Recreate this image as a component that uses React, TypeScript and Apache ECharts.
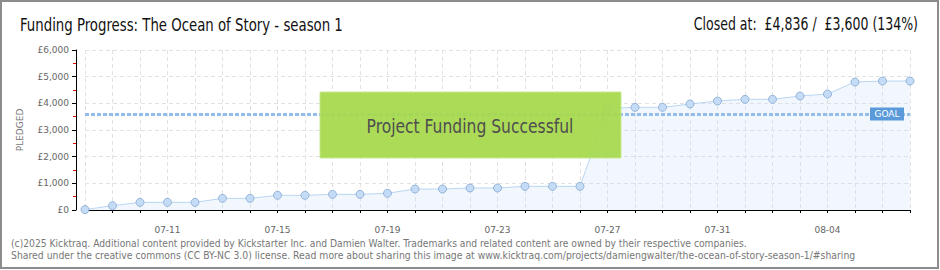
import React, { useEffect, useRef } from "react";
import * as echarts from "echarts";

const dates = [
  "07-08", "07-09", "07-10", "07-11", "07-12", "07-13", "07-14", "07-15", "07-16", "07-17",
  "07-18", "07-19", "07-20", "07-21", "07-22", "07-23", "07-24", "07-25", "07-26", "07-27",
  "07-28", "07-29", "07-30", "07-31", "08-01", "08-02", "08-03", "08-04", "08-05", "08-06", "08-07",
];
const pledged = [
  15, 162, 287, 287, 287, 437, 437, 550, 550, 587,
  587, 625, 787, 787, 825, 825, 887, 887, 887, 3812,
  3850, 3850, 3975, 4087, 4150, 4150, 4275, 4350, 4800, 4836, 4836,
];
const goal = 3600;
const titleText = "Funding Progress: The Ocean of Story - season 1";
const closedText = "Closed at:  £4,836 /  £3,600 (134%)";
const bannerText = "Project Funding Successful";
const footer1 =
  "(c)2025 Kicktraq. Additional content provided by Kickstarter Inc. and Damien Walter. Trademarks and related content are owned by their respective companies.";
const footer2 =
  "Shared under the creative commons (CC BY-NC 3.0) license. Read more about sharing this image at www.kicktraq.com/projects/damiengwalter/the-ocean-of-story-season-1/#sharing";

export default function App() {
  const ref = useRef<HTMLDivElement>(null);
  useEffect(() => {
    if (!ref.current) return;
    const chart = echarts.init(ref.current, null, { renderer: "svg" });
    const narrow = "'DejaVu Sans Condensed', 'DejaVu Sans', sans-serif";
    const small = "'DejaVu Sans', sans-serif";
    chart.setOption({
      animation: false,
      backgroundColor: "#fff",
      grid: { left: 85, right: 30, top: 50, bottom: 60 },
      xAxis: {
        type: "category",
        data: dates,
        boundaryGap: false,
        offset: 10,
        axisLine: { show: true, lineStyle: { color: "#000", width: 1 } },
        axisTick: { show: true, interval: 0, length: 3, lineStyle: { color: "#000" } },
        axisLabel: {
          interval: (i: number) => i >= 3 && (i - 3) % 4 === 0,
          color: "#666",
          fontSize: 9,
          fontFamily: small,
          margin: 5,
        },
        splitLine: { show: true, interval: 0, lineStyle: { color: "#e2e2e2", type: [4, 3] } },
      },
      yAxis: {
        type: "value",
        min: 0,
        max: 6000,
        interval: 1000,
        offset: 9,
        name: "PLEDGED",
        nameLocation: "middle",
        nameRotate: 90,
        nameGap: 52,
        nameTextStyle: { color: "#777", fontSize: 9, fontFamily: small },
        axisLine: { show: true, lineStyle: { color: "#000", width: 1 } },
        axisTick: { show: true, length: 4, lineStyle: { color: "#000" } },
        minorTick: { show: true, splitNumber: 2, length: 3, lineStyle: { color: "#e00" } },
        axisLabel: {
          color: "#666",
          fontSize: 9,
          fontFamily: small,
          margin: 7,
          formatter: (v: number) => "£" + v.toLocaleString("en-US"),
        },
        splitLine: { show: true, lineStyle: { color: "#e2e2e2", type: [4, 3] } },
      },
      series: [
        {
          type: "line",
          data: pledged,
          symbol: "circle",
          symbolSize: 8,
          lineStyle: { color: "#b9d5f3", width: 1 },
          itemStyle: { color: "#c4dcf6", borderColor: "#95b4da", borderWidth: 1 },
          areaStyle: { color: "rgba(200,222,247,0.35)" },
          z: 3,
          markLine: {
            silent: true,
            symbol: "none",
            label: { show: false },
            lineStyle: { color: "#93bdec", width: 3, type: [4, 2] },
            data: [{ yAxis: goal }],
          },
          markPoint: {
            silent: true,
            symbol: "rect",
            symbolSize: [34, 13],
            symbolOffset: [-23, 0],
            itemStyle: { color: "#5a9adb" },
            label: {
              show: true,
              formatter: "GOAL",
              color: "#fff",
              fontSize: 9,
              fontFamily: small,
            },
            data: [{ coord: [dates.length - 1, goal] }],
          },
        },
      ],
      graphic: [
        {
          type: "rect",
          z: 100,
          shape: { x: 1, y: 1, width: 937, height: 267 },
          style: { fill: "none", stroke: "#8c8c8c", lineWidth: 2 },
          silent: true,
        },
        {
          type: "text",
          z: 100,
          x: 20,
          y: 25,
          scaleX: 0.87,
          style: {
            text: titleText,
            fontSize: 17,
            fontFamily: narrow,
            fill: "#111",
            verticalAlign: "middle",
          },
        },
        {
          type: "text",
          z: 100,
          x: 918,
          y: 25,
          scaleX: 0.82,
          style: {
            text: closedText,
            fontSize: 17,
            fontFamily: narrow,
            fill: "#111",
            align: "right",
            verticalAlign: "middle",
          },
        },
        {
          type: "rect",
          z: 100,
          shape: { x: 320, y: 92, width: 301, height: 66 },
          style: { fill: "#a6d84b", stroke: "#c6e88e", lineWidth: 1, opacity: 0.93 },
        },
        {
          type: "text",
          z: 101,
          x: 470,
          y: 126,
          scaleX: 0.91,
          style: {
            text: bannerText,
            fontSize: 19,
            fontFamily: narrow,
            fill: "#4e4e4e",
            align: "center",
            verticalAlign: "middle",
            textShadowColor: "#fff",
            textShadowOffsetX: 1,
            textShadowOffsetY: 1,
            textShadowBlur: 0,
          },
        },
        {
          type: "text",
          z: 100,
          x: 11,
          y: 243,
          scaleX: 0.92,
          style: { text: footer1, fontSize: 10, fontFamily: small, fill: "#777", verticalAlign: "middle" },
        },
        {
          type: "text",
          z: 100,
          x: 11,
          y: 255,
          scaleX: 0.93,
          style: { text: footer2, fontSize: 10, fontFamily: small, fill: "#777", verticalAlign: "middle" },
        },
      ],
    });
    return () => chart.dispose();
  }, []);
  return (
    <div
      ref={ref}
      style={{ position: "absolute", left: 0, top: 0, width: 940, height: 270 }}
    />
  );
}
